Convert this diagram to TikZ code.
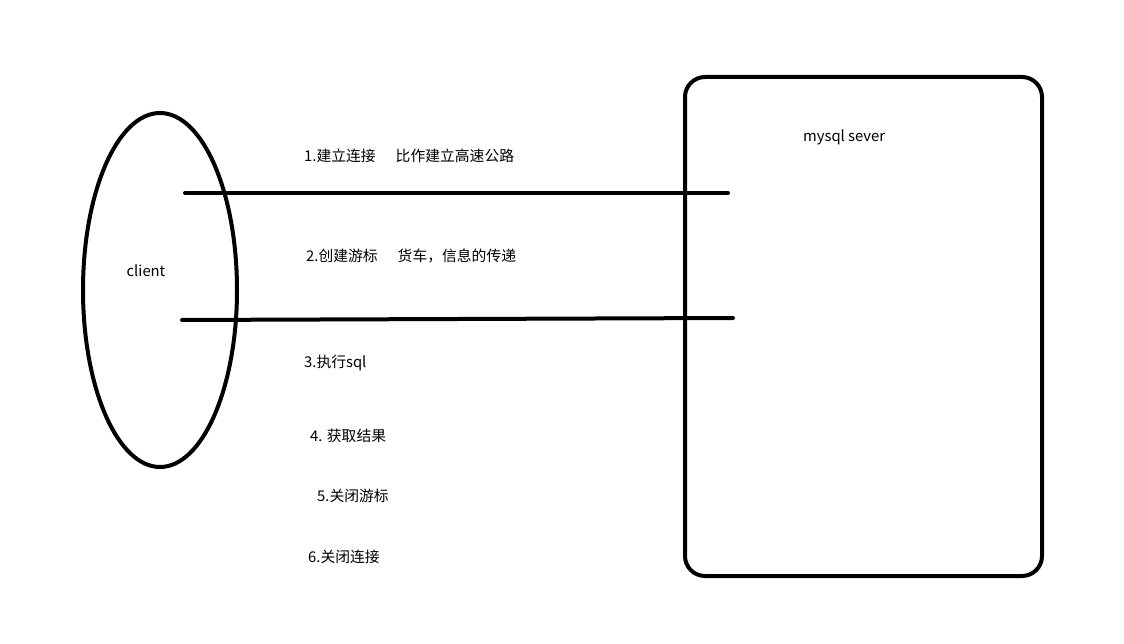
\documentclass[tikz,border=0pt]{standalone}
\usepackage{fontspec}
\usetikzlibrary{shapes.geometric}
\setmainfont{Noto Sans CJK SC}
\begin{document}
\begin{tikzpicture}[x=1pt,y=-1pt,
  thick line/.style={line width=4pt,line cap=round},
  lbl/.style={font=\fontsize{14.8}{17}\selectfont,inner sep=0pt,anchor=west}]
\useasboundingbox (0,0) rectangle (1124,644);
\node[draw,thick line,ellipse,minimum width=154,minimum height=354,inner sep=0pt] (client) at (160,290) {};
\node[draw,thick line,rounded corners=20pt,minimum width=357,minimum height=499,inner sep=0pt,anchor=north west] (server) at (683,75) {};
\node[lbl,anchor=center] (clientlbl) at (146,271) {client};
\node[lbl] (serverlbl) at (803,137) {mysql sever};
\coordinate (l1a) at (185,193);
\coordinate (l1b) at (728,193);
\coordinate (l2a) at (182,320);
\coordinate (l2b) at (733,318);
\draw[thick line] (l1a) -- (l1b);
\draw[thick line] (l2a) -- (l2b);
\node[lbl] (t1) at (304,156) {1.建立连接\hspace{20pt}比作建立高速公路};
\node[lbl] (t2) at (306,256) {2.创建游标\hspace{20pt}货车，信息的传递};
\node[lbl] (t3) at (304,363) {3.执行sql};
\node[lbl] (t4) at (310,436) {4. 获取结果};
\node[lbl] (t5) at (317,496) {5.关闭游标};
\node[lbl] (t6) at (308,557) {6.关闭连接};
\end{tikzpicture}
\end{document}
